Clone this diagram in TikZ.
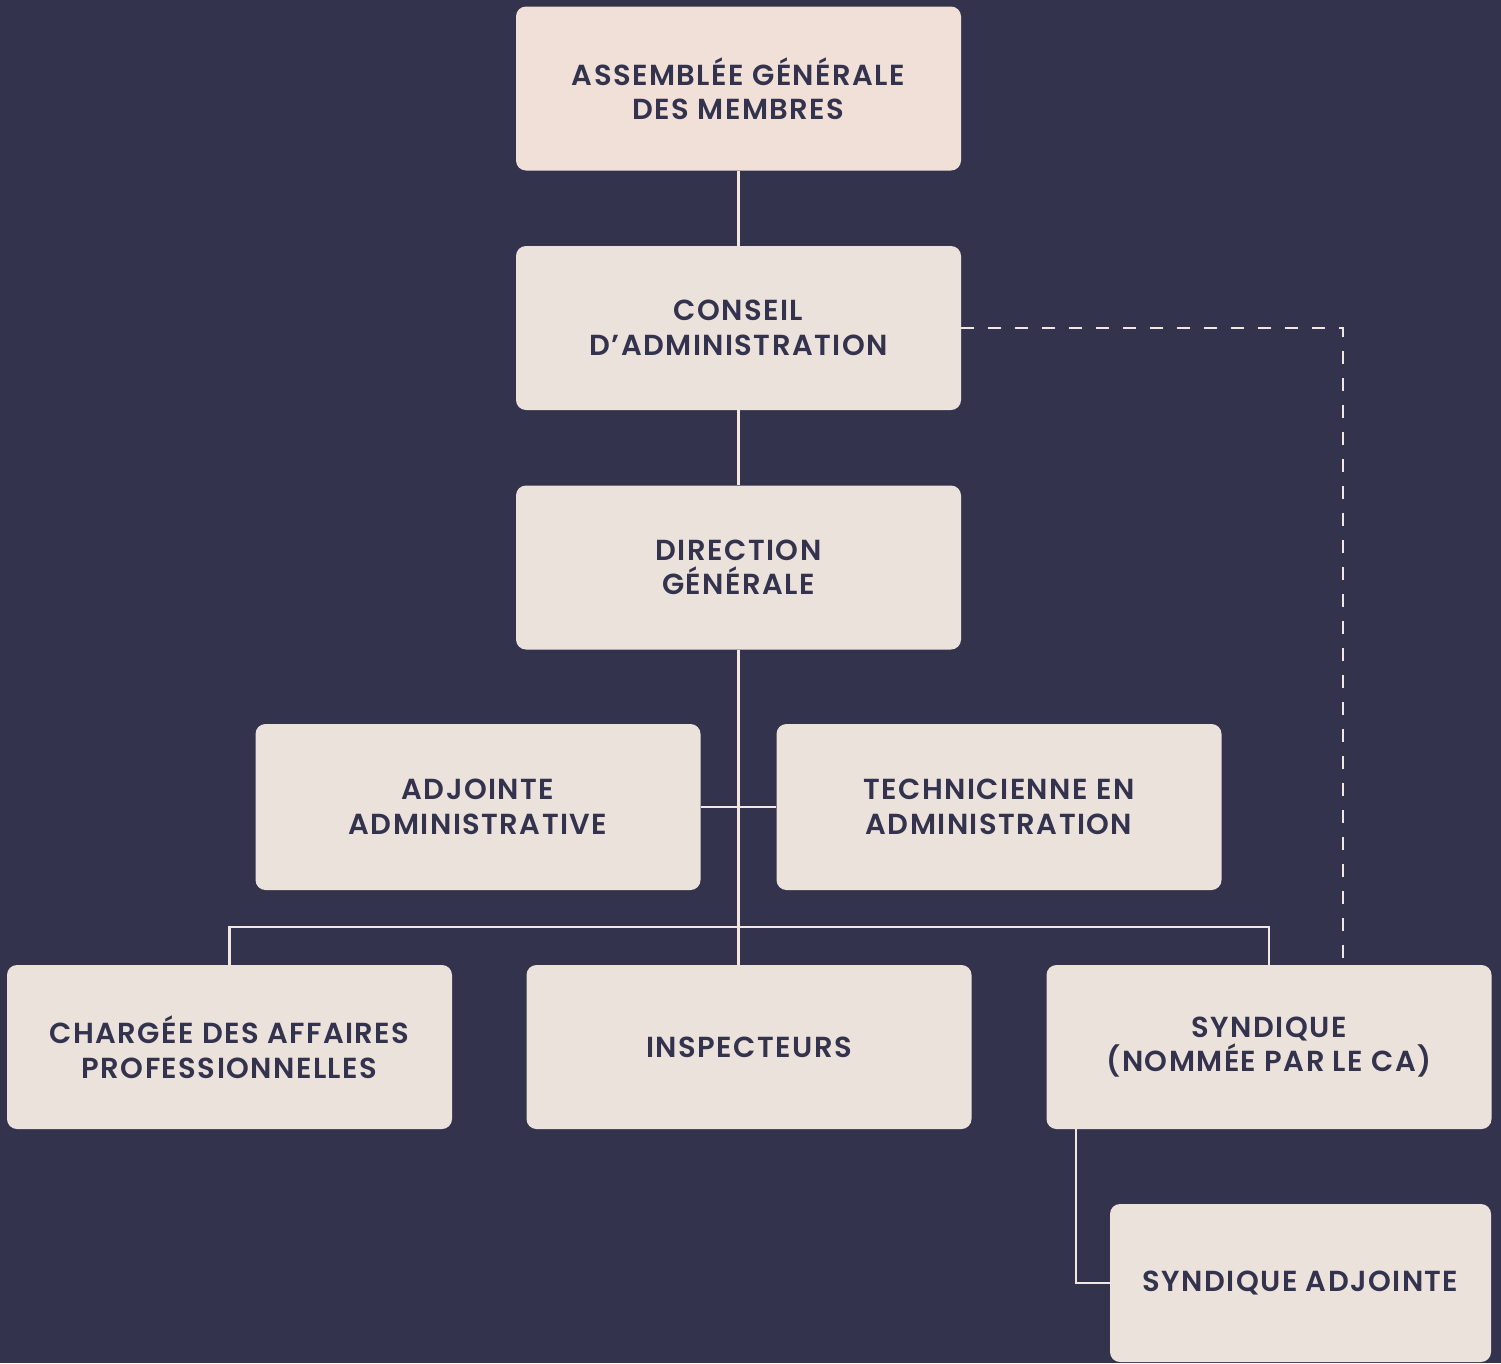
\documentclass[tikz,border=0pt]{standalone}
\usepackage{fontspec}
\setmainfont{Poppins}[UprightFont=* SemiBold,BoldFont=* Bold,LetterSpace=5]
\definecolor{bg}{HTML}{34334E}
\definecolor{boxa}{HTML}{F0E0D8}
\definecolor{boxb}{HTML}{ECE2DC}
\definecolor{ln}{HTML}{F1E6E0}
\begin{document}
\begin{tikzpicture}[x=1pt,y=-1pt,
  box/.style={fill=boxb,draw=none,rounded corners=10pt,minimum width=445pt,minimum height=164pt,
    text=bg,align=center,inner sep=0pt,font=\fontsize{29}{34.5}\selectfont},
  conn/.style={draw=ln,line width=2.4pt},
  dconn/.style={conn,dash pattern=on 13pt off 14pt}]
\fill[bg] (0,0) rectangle (1501,1363);
\useasboundingbox (0,0) rectangle (1501,1363);
\node[box,fill=boxa] (ag) at (738.5,88.5) {ASSEMBLÉE GÉNÉRALE\\DES MEMBRES};
\node[box] (ca) at (738.5,328) {CONSEIL\\D’ADMINISTRATION};
\node[box] (dg) at (738.5,567.5) {DIRECTION\\GÉNÉRALE};
\node[box,minimum height=166pt] (adj) at (478,807) {ADJOINTE\\ADMINISTRATIVE};
\node[box,minimum height=166pt] (tech) at (999,807) {TECHNICIENNE EN\\ADMINISTRATION};
\node[box] (charg) at (229.5,1047) {CHARGÉE DES AFFAIRES\\PROFESSIONNELLES};
\node[box] (insp) at (749,1047) {INSPECTEURS};
\node[box] (synd) at (1269,1047) {SYNDIQUE\\(NOMMÉE PAR LE CA)};
\node[box,minimum width=381pt,minimum height=158pt] (sadj) at (1300.5,1283) {SYNDIQUE ADJOINTE};
\coordinate (bus) at (738,927);
\coordinate (dc) at (1343,965);
\coordinate (sa) at (1076,1129);
\draw[conn] (ag.south) -- (ca.north);
\draw[conn] (ca.south) -- (dg.north);
\draw[conn] (dg.south) -- (dg.south |- insp.north);
\draw[conn] (adj.east) -- (tech.west);
\draw[conn] (charg.north) |- (bus) -| (synd.north);
\draw[dconn] (ca.east) -| (dc);
\draw[conn] (sa) |- (sadj.west);
\end{tikzpicture}
\end{document}
